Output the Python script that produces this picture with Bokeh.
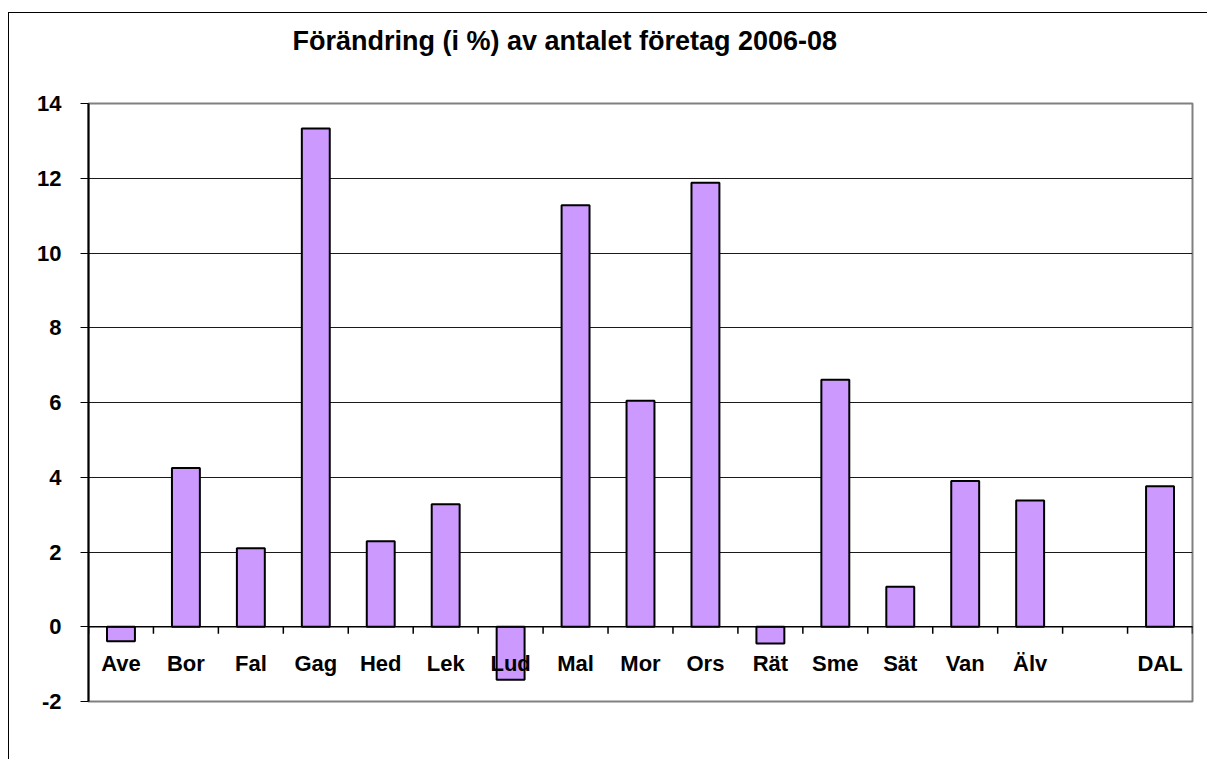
from bokeh.plotting import figure
from bokeh.models import ColumnDataSource, FactorRange, Range1d, FixedTicker, Title
from bokeh.transform import dodge
from bokeh.embed import file_html
from bokeh.resources import INLINE

# ---- data ----
categories = ["Ave", "Bor", "Fal", "Gag", "Hed", "Lek", "Lud", "Mal", "Mor",
              "Ors", "Rät", "Sme", "Sät", "Van", "Älv", " ", "DAL"]
values = [-0.39, 4.25, 2.10, 13.33, 2.29, 3.28, -1.42, 11.28, 6.05,
          11.88, -0.45, 6.61, 1.07, 3.90, 3.38, None, 3.76]
y_ticks = [-2, 0, 2, 4, 6, 8, 10, 12, 14]
y_tick_labels = {t: str(t) for t in y_ticks}
title_text = "Förändring (i %) av antalet företag  2006-08"

FONT = "Liberation Sans"

bar_cats = [c for c, v in zip(categories, values) if v is not None]
bar_vals = [v for v in values if v is not None]
bars = ColumnDataSource(data=dict(cat=bar_cats, val=bar_vals))
ticks_src = ColumnDataSource(data=dict(cat=categories))
last_src = ColumnDataSource(data=dict(cat=[categories[-1]]))

p = figure(
    width=1199, height=747,
    x_range=FactorRange(*categories, range_padding=0),
    y_range=Range1d(y_ticks[0], y_ticks[-1]),
    output_backend="svg", toolbar_location=None,
    min_border_left=79, min_border_right=16, min_border_top=90, min_border_bottom=59,
)
p.styles = {"border-left": "1px solid black", "border-top": "1px solid black",
            "margin-top": "12px", "margin-left": "8px"}
p.background_fill_color = "white"
p.border_fill_color = "white"
p.outline_line_color = "#808080"
p.outline_line_width = 2

# title
p.title.text = title_text
p.title.align = "left"
p.title.offset = 204
p.title.text_font = FONT
p.title.text_font_style = "bold"
p.title.text_font_size = "27px"
p.title.text_color = "black"
# blank spacer between title and plot area
p.add_layout(Title(text=" ", text_font_size="28px", standoff=10), "above")

# grid
p.xgrid.grid_line_color = None
p.ygrid.grid_line_color = "#1a1a1a"
p.ygrid.grid_line_width = 1.2
p.ygrid.ticker = FixedTicker(ticks=y_ticks)

# y axis
ya = p.yaxis[0]
ya.ticker = FixedTicker(ticks=y_ticks)
ya.major_label_overrides = y_tick_labels
ya.axis_line_color = "black"
ya.axis_line_width = 2
ya.major_tick_line_color = "black"
ya.major_tick_out = 8
ya.major_tick_in = 0
ya.minor_tick_line_color = None
ya.major_label_standoff = 19
ya.major_label_text_font = FONT
ya.major_label_text_font_style = "bold"
ya.major_label_text_font_size = "22px"
ya.major_label_text_color = "black"

# x axis (labels drawn up inside the frame, below the zero line)
xa = p.xaxis[0]
xa.axis_line_color = None
xa.major_tick_line_color = None
xa.minor_tick_line_color = None
xa.major_tick_out = 0
xa.major_tick_in = 0
xa.major_label_standoff = -51
xa.major_label_text_font = FONT
xa.major_label_text_font_style = "bold"
xa.major_label_text_font_size = "22px"
xa.major_label_text_color = "black"

# bars
p.vbar(x="cat", top="val", bottom=0, width=0.43, source=bars,
       fill_color="#CC99FF", line_color="black", line_width=2)

# zero line and category boundary ticks
tick_len = 0.19
p.segment(x0=dodge("cat", -0.5, range=p.x_range), x1=dodge("cat", -0.5, range=p.x_range),
          y0=0, y1=-tick_len, source=ticks_src, line_color="black", line_width=1.5)
p.segment(x0=dodge("cat", 0.5, range=p.x_range), x1=dodge("cat", 0.5, range=p.x_range),
          y0=0, y1=-tick_len, source=last_src, line_color="black", line_width=1.5)
p.ray(x=dodge("cat", -0.5, range=p.x_range), y=0, length=0, angle=0,
      source=ColumnDataSource(data=dict(cat=[categories[0]])),
      line_color="black", line_width=1.5)

open("out.html", "w").write(file_html(p, INLINE))
